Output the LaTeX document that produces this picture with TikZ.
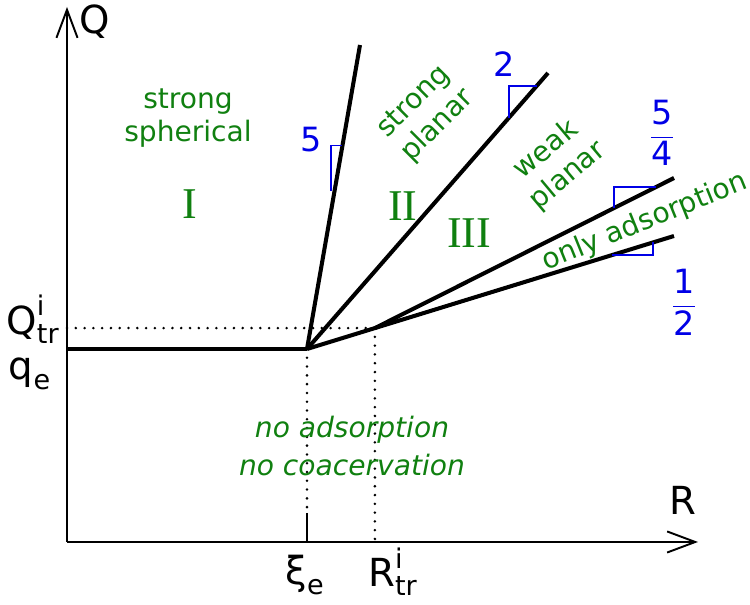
\documentclass[tikz,border=0pt]{standalone}
\usepackage{amsmath}
\usepackage{fontspec}
\setmainfont{DejaVu Sans}
\newfontfamily\romanfont{Liberation Serif}
\usetikzlibrary{arrows.meta,calc,positioning}
\definecolor{regiongreen}{RGB}{16,128,16}
\definecolor{slopeblue}{RGB}{0,0,230}

\tikzset{
  axis/.style={line width=1.1pt, -{Straight Barb[length=16pt,width=12pt,line width=1.1pt]}},
  branch/.style={line width=2.3pt},
  guide/.style={line width=1.6pt, line cap=round, dash pattern=on 0pt off 5pt},
  slopebox/.style={draw=slopeblue, line width=0.9pt},
  axislabel/.style={font=\fontsize{22}{26}\selectfont},
  regionlabel/.style={text=regiongreen, align=center, font=\fontsize{16}{19}\selectfont},
  phaselabel/.style={text=regiongreen, font=\romanfont\fontsize{25}{30}\selectfont},
  slopelabel/.style={text=slopeblue, font=\fontsize{19}{22}\selectfont}
}

\begin{document}
\begin{tikzpicture}
    \useasboundingbox (-1.34,-1.26) rectangle (13.66,10.84);

    % Axes
    \coordinate (O) at (0,0);
    \coordinate (ytip) at (0,10.7);
    \coordinate (xtip) at (12.62,0);
    \draw[axis] (O) -- (ytip);
    \draw[axis] (O) -- (xtip);
    \node[axislabel] (Qlabel) at (0.56,10.4) {Q};
    \node[axislabel] (Rlabel) at (12.32,0.84) {R};

    % Branch points and ends
    \coordinate (A) at (4.8,3.86);
    \coordinate (E1) at (5.86,9.94);
    \coordinate (E2) at (9.62,9.38);
    \coordinate (E3) at (12.14,7.28);
    \coordinate (E4) at (12.14,6.12);
    \coordinate (B) at ($(A)!0.185!(E4)$);

    % Guides
    \coordinate (xi) at (A |- O);
    \coordinate (xitop) at ($(xi)+(0,0.58)$);
    \draw[guide] (A) -- (xitop);
    \draw[line width=1.1pt] (xitop) -- (xi);
    \draw[guide] (B) -- (B |- O);
    \draw[guide] (B -| O) -- (B);

    % Lines
    \draw[branch] (A -| O) -- (A);
    \draw[branch] (A) -- (E1);
    \draw[branch] (A) -- (E2);
    \draw[branch] (B) -- (E3);
    \draw[branch] (A) -- (E4);

    % Slope triangles
    \draw[slopebox] ($(A)!0.52!(E1)+(-0.07,0)$) |- ($(A)!0.669!(E1)$);
    \draw[slopebox] ($(A)!0.837!(E2)$) |- ($(A)!0.953!(E2)$);
    \draw[slopebox] ($(B)!0.80!(E3)$) |- ($(B)!0.94!(E3)$);
    \draw[slopebox] ($(A)!0.831!(E4)$) -| ($(A)!0.943!(E4)$);
    \node[slopelabel] (slopeI) at (4.88,8.04) {5};
    \node[slopelabel] (slopeII) at (8.74,9.56) {2};
    \node[slopelabel] (slopeIII) at (11.9,8.18) {$\dfrac{\text{5}}{\text{4}}$};
    \node[slopelabel] (slopeIV) at (12.34,4.8) {$\dfrac{\text{1}}{\text{2}}$};

    % Axis marks
    \node[axislabel] (Qtr) at (-0.68,4.46) {$\text{Q}^{\text{i}}_{\text{tr}}$};
    \node[axislabel] (qe) at (-0.74,3.36) {$\text{q}_{\text{e}}$};
    \node[axislabel] (xie) at (4.76,-0.66) {$\text{ξ}_{\text{e}}$};
    \node[axislabel] (Rtr) at (6.52,-0.6) {$\text{R}^{\text{i}}_{\text{tr}}$};

    % Regions
    \node[regionlabel] (spherical) at (2.42,8.48) {strong\\spherical};
    \node[phaselabel] (regI) at (2.46,6.76) {I};
    \node[phaselabel] (regII) at (6.72,6.72) {II};
    \node[phaselabel] (regIII) at (8.04,6.18) {III};
    \node[regionlabel, rotate=45] (planar) at (7.18,8.56) {strong\\planar};
    \node[regionlabel, rotate=40] (weak) at (9.8,7.58) {weak\\planar};
    \node[regionlabel, rotate=22] (only) at (11.56,6.4) {only adsorption};
    \node[regionlabel, font=\itshape\fontsize{16}{21.5}\selectfont] (none) at (5.7,1.92) {no adsorption\\no coacervation};
\end{tikzpicture}
\end{document}
